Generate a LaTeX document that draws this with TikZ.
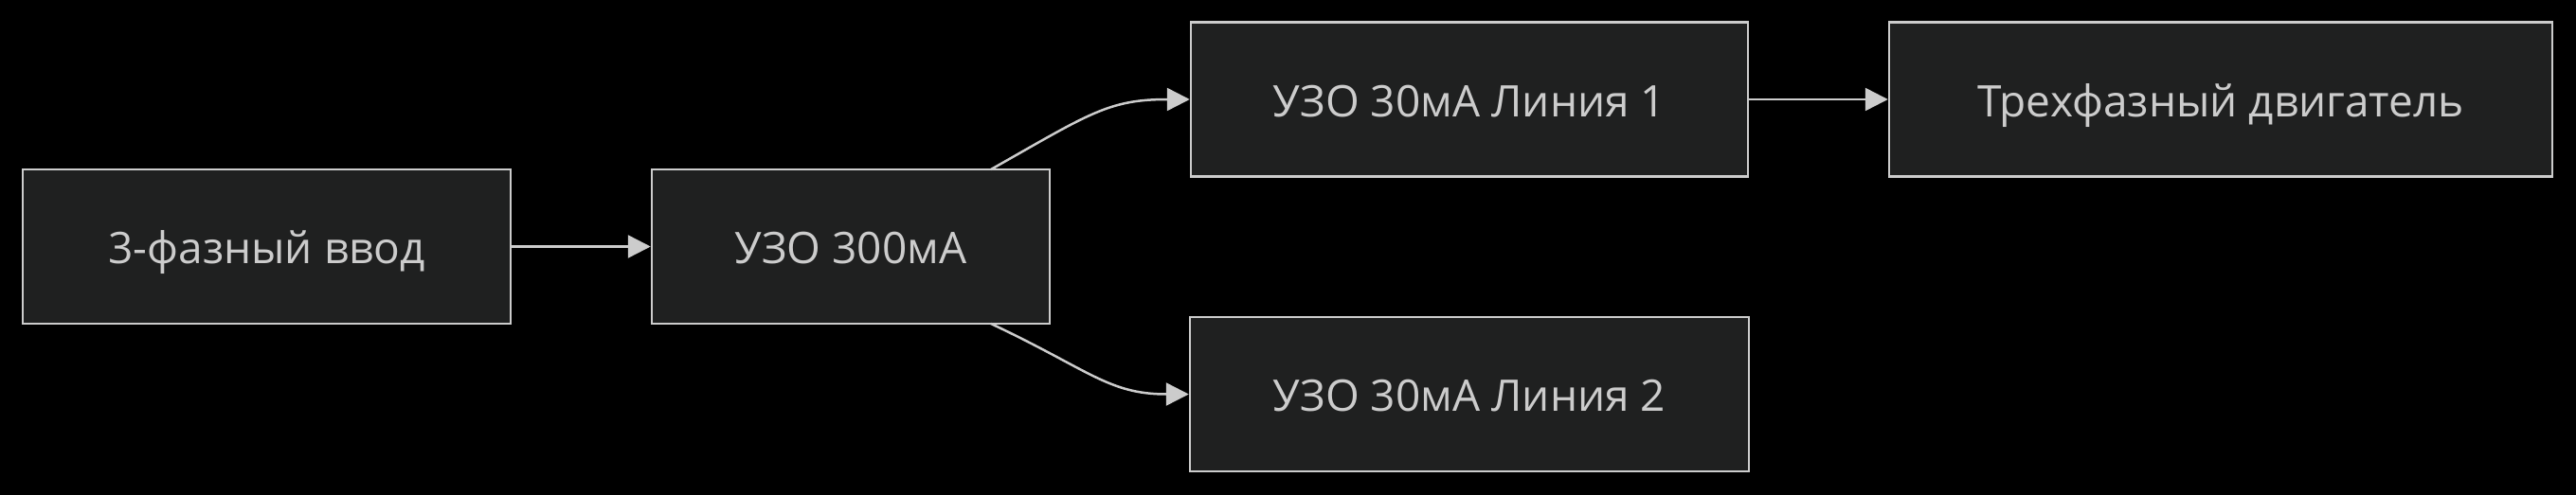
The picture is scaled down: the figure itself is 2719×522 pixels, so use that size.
\documentclass[tikz,border=0pt]{standalone}
\usepackage{fontspec}
\setmainfont{Open Sans}
\usetikzlibrary{arrows.meta}
\definecolor{bg}{HTML}{000000}
\definecolor{boxfill}{HTML}{1F2020}
\definecolor{boxline}{HTML}{CCCCCC}
\definecolor{txt}{HTML}{CCCCCC}
\tikzset{
  box/.style={draw=boxline, fill=boxfill, line width=2.5pt, text=txt,
    minimum height=163pt, inner sep=0pt, text height=40pt, text depth=4pt,
    font=\fontsize{46}{54}\selectfont},
  conn/.style={draw=boxline, line width=2.5pt,
    -{Triangle[length=24pt,width=24pt]}},
}
\begin{document}
\begin{tikzpicture}[x=1pt,y=-1pt]
\useasboundingbox (0,0) rectangle (2719,522);
\fill[bg] (-10,-10) rectangle (2729,532);
\node[box, minimum width=515pt] (A) at (281.5,260.5) {3-фазный ввод};
\node[box, minimum width=420pt] (B) at (898,260.5) {УЗО 300мА};
\node[box, minimum width=588pt] (C) at (1551,105) {УЗО 30мА Линия 1};
\node[box, minimum width=700pt] (D) at (2344,105) {Трехфазный двигатель};
\node[box, minimum width=590pt] (E) at (1551,416.5) {УЗО 30мА Линия 2};
\coordinate (Bt) at (1046,179);
\coordinate (Bb) at (1046,342);
\draw[conn] (A) -- (B);
\draw[conn] (Bt) .. controls (1150,120) and (1170,105) .. (C.west);
\draw[conn] (Bb) .. controls (1150,391) and (1170,416.5) .. (E.west);
\draw[conn] (C) -- (D);
\end{tikzpicture}
\end{document}
